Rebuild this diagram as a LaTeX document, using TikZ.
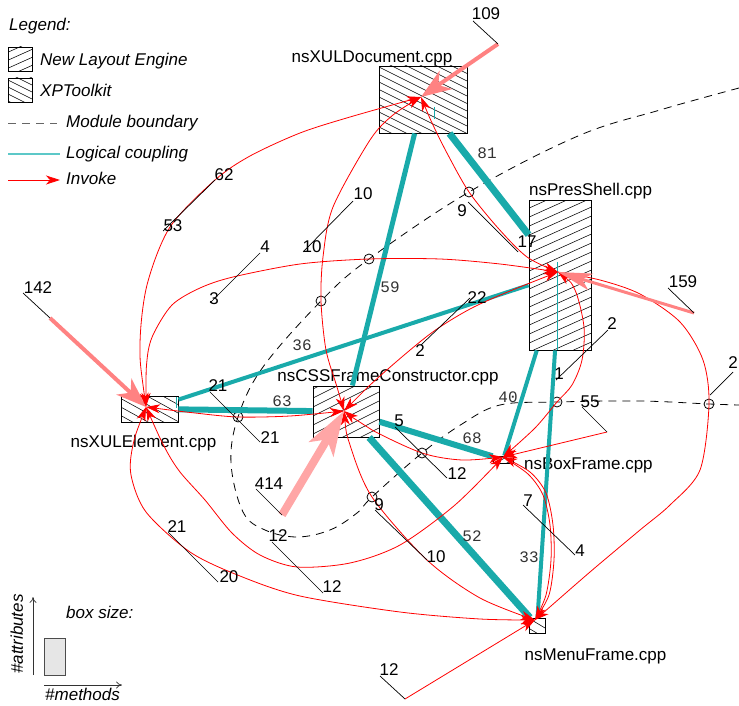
\documentclass[tikz,border=0pt]{standalone}
\usepackage{fontspec}
\setmainfont{Liberation Sans}
\newfontfamily\mfont{Liberation Mono}
\usetikzlibrary{arrows.meta}
\definecolor{cplc}{HTML}{19AAAA}
\definecolor{cpll}{HTML}{5CC8C8}
\definecolor{pinkA}{HTML}{FF8282}
\definecolor{pinkB}{HTML}{FFA6A6}
\definecolor{boxgray}{HTML}{E6E6E6}
\newcommand{\hatchit}[6]{%
  \begin{scope}
    \clip (#1,#2) rectangle (#3,#4);
    \fill[white] (#1,#2) rectangle (#3,#4);
    \pgfmathsetmacro\hw{#3-#1}%
    \pgfmathsetmacro\hdy{#5*\hw}%
    \pgfmathsetmacro\cA{#2-abs(\hdy)-#6}%
    \pgfmathsetmacro\cB{\cA+#6}%
    \pgfmathsetmacro\cZ{#4+abs(\hdy)+#6}%
    \foreach \c in {\cA,\cB,...,\cZ} {\draw[hatch] (#1,\c) -- ++(\hw,\hdy);}
  \end{scope}}
\newcommand{\leadline}[3]{\coordinate (#1a) at #2; \coordinate (#1b) at #3; \draw[lead] (#1a) -- (#1b);}
\begin{document}
\begin{tikzpicture}[x=1pt,y=-1pt,
 lbl/.style={font=\fontsize{17}{20}\selectfont, inner sep=0pt, anchor=base},
 lblw/.style={lbl, anchor=base west},
 ilbl/.style={font=\fontsize{17}{20}\selectfont\itshape, inner sep=0pt, anchor=base west},
 mnum/.style={font=\mfont\fontsize{16}{18}\selectfont, text=black!80, inner sep=0pt, anchor=base},
 cbox/.style={draw, line width=0.9pt, inner sep=0pt, rectangle},
 hatch/.style={line width=0.55pt},
 inv/.style={draw=red, line width=0.8pt, -{Stealth[length=14pt,width=9pt,inset=4pt]}},
 binv/.style={draw=red, line width=0.8pt, {Stealth[length=14pt,width=9pt,inset=4pt]}-{Stealth[length=14pt,width=9pt,inset=4pt]}},
 ext/.style={draw=pinkA, line width=4pt, -{Stealth[length=30pt,width=22pt,inset=9pt]}},
 lead/.style={draw=black, line width=0.7pt},
 ring/.style={draw=black, line width=0.8pt},
 bound/.style={draw=black, line width=0.8pt, dash pattern=on 8pt off 6pt},
]
\useasboundingbox (0,0) rectangle (739,706);

% ---------- legend ----------
\node[ilbl] (legT) at (9,31) {Legend:};
\hatchit{8}{47}{32}{71}{-0.45}{8}
\node[cbox, minimum width=24pt, minimum height=24pt] (legA) at (20,59) {};
\node[ilbl] (legAt) at (40,66) {New Layout Engine};
\hatchit{8}{78}{32}{102}{0.5}{7}
\node[cbox, minimum width=24pt, minimum height=24pt] (legB) at (20,90) {};
\node[ilbl] (legBt) at (40,96.5) {XPToolkit};
\coordinate (ld1) at (8,123); \coordinate (ld2) at (57,123);
\draw[bound, draw=black!60] (ld1) -- (ld2);
\node[ilbl] (legCt) at (66,128) {Module boundary};
\coordinate (lc1) at (8,154); \coordinate (lc2) at (60,154);
\draw[draw=cpll, line width=1.5pt] (lc1) -- (lc2);
\node[ilbl] (legDt) at (66,159) {Logical coupling};
\coordinate (li1) at (8,180); \coordinate (li2) at (60,180);
\draw[inv] (li1) -- (li2);
\node[ilbl] (legEt) at (66,185) {Invoke};

% box size legend
\node[ilbl] (bsT) at (66,618) {box size:};
\node[draw=black!70, fill=boxgray, line width=0.8pt, minimum width=21pt, minimum height=37pt, inner sep=0pt] (bsB) at (54.5,656.5) {};
\coordinate (av1) at (33,675); \coordinate (av2) at (33,597);
\draw[black!80, line width=0.7pt, -{To[length=6pt,width=7pt]}] (av1) -- (av2);
\coordinate (ah1) at (44,685); \coordinate (ah2) at (122,685);
\draw[black!80, line width=0.7pt, -{To[length=6pt,width=7pt]}] (ah1) -- (ah2);
\node[ilbl] (bsM) at (45,700) {\#methods};
\node[font=\fontsize{17}{20}\selectfont\itshape, inner sep=0pt, anchor=base, rotate=90] (bsA) at (23,634) {\#attributes};

% ---------- module boundary ----------
\draw[bound] plot[smooth, tension=0.6] coordinates {(739,88) (660,110) (578,136) (469,192) (369,259) (321,301) (263,367) (238,417) (231,463) (243,512) (265,530) (297,537) (330,530) (357,513) (372,497) (422,453) (462,424) (500,405) (557,402) (640,401) (709,404) (739,405)};
\foreach \p in {(469,192),(369,259),(321,301),(238,417),(372,497),(422,453),(557,402),(709,404)}
  \draw[ring] \p circle[radius=5pt];

% ---------- boxes ----------
\hatchit{379}{66}{467}{133}{0.5}{7.5}
\node[cbox, minimum width=88pt, minimum height=67pt] (xd) at (423,99.5) {};
\hatchit{529}{200}{591}{350}{-0.45}{9}
\node[cbox, minimum width=62pt, minimum height=150pt] (ps) at (560,275) {};
\hatchit{121}{396}{178}{422}{0.55}{8.5}
\node[cbox, minimum width=57pt, minimum height=26pt] (xe) at (149.5,409) {};
\hatchit{313}{386}{379}{437}{-0.5}{9}
\node[cbox, minimum width=66pt, minimum height=51pt] (cf) at (346,411.5) {};
\hatchit{493}{456}{513}{463}{-0.5}{6}
\node[cbox, minimum width=20pt, minimum height=7pt] (bf) at (503,459.5) {};
\hatchit{529}{618}{545}{633}{0.6}{10}
\node[cbox, minimum width=16pt, minimum height=15pt] (mf) at (537,625.5) {};

% self coupling ticks
\draw[cplc, line width=1pt] (434,107) -- (434,119);
\draw[cplc, line width=1pt] (557,262) -- (557,349.5);
\draw[cplc, line width=1pt] (176.5,397) -- (176.5,408);

% node labels
\node[lbl] (xdL) at (372,62.5) {nsXULDocument.cpp};
\node[lblw] (psL) at (529,195) {nsPresShell.cpp};
\node[lbl] (xeL) at (143.5,447) {nsXULElement.cpp};
\node[lbl] (cfL) at (388,381.5) {nsCSSFrameConstructor.cpp};
\node[lblw] (bfL) at (524,469) {nsBoxFrame.cpp};
\node[lbl] (mfL) at (595.5,660) {nsMenuFrame.cpp};

% ---------- logical coupling ----------
\draw[cplc, line width=5pt] (xd) -- (cf);
\draw[cplc, line width=7pt] (xd) -- (ps);
\draw[cplc, line width=4pt] (xe) -- (ps);
\draw[cplc, line width=6pt] (xe) -- (cf);
\draw[cplc, line width=6pt] (cf) -- (bf);
\draw[cplc, line width=7pt] (cf) -- (mf);
\draw[cplc, line width=4pt] (ps) -- (bf);
\draw[cplc, line width=4pt] (ps) -- (mf);

% ---------- invoke targets ----------
\coordinate (xdT) at (421,97);
\coordinate (psT) at (558,272);
\coordinate (xeT) at (146,407);
\coordinate (cfT) at (344,411);
\coordinate (bfT) at (503,457);
\coordinate (mfT) at (535,620);

% ---------- invoke curves ----------
\draw[binv] plot[smooth] coordinates {(xeT) (140,345) (147,285) (170,227) (215,180) (250,156) (300,133) (350,117) (xdT)};
\draw[binv] plot[smooth] coordinates {(xeT) (147,360) (153,335) (172,305) (200,288) (233,277) (300,264) (369,259) (440,259) (500,264) (psT)};
\draw[binv] plot[smooth] coordinates {(cfT) (337,387) (326,350) (321,301) (323,257) (333,207) (370,140) (393,115) (xdT)};
\draw[binv] plot[smooth] coordinates {(xdT) (433,125) (448,155) (469,192) (498,228) (527,257) (psT)};
\draw[binv] plot[smooth] coordinates {(xeT) (195,413) (238,417) (290,416) (cfT)};
\draw[binv] plot[smooth] coordinates {(cfT) (380,376) (430,334) (470,309) (510,291) (psT)};
\draw[binv] plot[smooth] coordinates {(cfT) (372,430) (422,453) (462,460) (bfT)};
\draw[binv] plot[smooth] coordinates {(cfT) (350,445) (372,497) (427,560) (480,598) (mfT)};
\draw[binv] plot[smooth] coordinates {(xeT) (165,448) (180,472) (205,500) (232,533) (260,555) (297,567) (350,563) (400,545) (455,505) (bfT)};
\draw[binv] plot[smooth] coordinates {(xeT) (133,445) (131,475) (146,512) (190,552) (240,576) (300,596) (400,612) (480,619) (mfT)};
\draw[binv] plot[smooth] coordinates {(psT) (575,290) (584,327) (582,360) (572,385) (557,402) (535,428) (bfT)};
\draw[inv] plot[smooth] coordinates {(psT) (600,280) (640,294) (680,322) (703,360) (709,404) (700,470) (670,505) (640,530) (590,572) (mfT)};
\draw[inv] plot[smooth] coordinates {(bfT) (528,474) (543,495) (550,525) (551,560) (546,595) (mfT)};
\draw[inv] plot[smooth] coordinates {(mfT) (549,595) (554,560) (553,525) (546,493) (530,472) (bfT)};

% external invocations
\coordinate (e55) at (607,432);
\draw[inv] (e55) -- (bfT);
\coordinate (e12) at (405,699);
\draw[inv] (e12) -- (mfT);
\coordinate (e109) at (498,44);
\draw[ext] (e109) -- (xdT);
\coordinate (e142) at (50,318);
\draw[ext] (e142) -- (xeT);
\coordinate (e159) at (694,313);
\draw[ext, line width=3pt, -{Stealth[length=34pt,width=17pt,inset=9pt]}] (e159) -- (psT);
\coordinate (e414) at (282,515);
\draw[ext, draw=pinkB, line width=8pt, -{Stealth[length=44pt,width=28pt,inset=11pt]}] (e414) -- (cfT);

% ---------- leaders ----------
\leadline{l109}{(473,21)}{(498,44)}
\leadline{l62}{(163,231)}{(215,180)}
\leadline{l4}{(210,303)}{(260,253)}
\leadline{l10}{(303,252)}{(353,201)}
\leadline{l142}{(23,293)}{(50,318)}
\leadline{l9}{(468,202)}{(518,252)}
\leadline{l22}{(421,345)}{(470,298)}
\leadline{l159}{(668,288)}{(694,313)}
\leadline{l2a}{(556,380)}{(608,330)}
\leadline{l21}{(210,392)}{(260,442)}
\leadline{l5}{(395,427)}{(447,478)}
\leadline{l55}{(582,407)}{(607,432)}
\leadline{l2b}{(710,395)}{(733,372)}
\leadline{l414}{(256,489)}{(282,515)}
\leadline{l9b}{(375,510)}{(427,560)}
\leadline{l12}{(272,542)}{(323,593)}
\leadline{l7}{(523,505)}{(575,555)}
\leadline{l21b}{(168,532)}{(218,582)}
\leadline{l12b}{(380,676)}{(405,699)}

% ---------- numbers ----------
\node[lbl] (n109) at (486,20) {109};
\node[lbl] (n62) at (224,180) {62};
\node[lbl] (n53) at (173,231.5) {53};
\node[lbl] (n4) at (265,252.5) {4};
\node[lbl] (n3) at (214,304) {3};
\node[lbl] (n10a) at (363,200) {10};
\node[lbl] (n10b) at (312,252.5) {10};
\node[lbl] (n142) at (38,293) {142};
\node[lbl] (n9) at (462,216) {9};
\node[lbl] (n17) at (527,247.5) {17};
\node[lbl] (n22) at (477,303.5) {22};
\node[lbl] (n2a) at (420,356) {2};
\node[lbl] (n159) at (683,287.5) {159};
\node[lbl] (n2b) at (612,329) {2};
\node[lbl] (n21a) at (218,391) {21};
\node[lbl] (n21b) at (270,443) {21};
\node[lbl] (n5) at (399,426.5) {5};
\node[lbl] (n1) at (559,379) {1};
\node[lbl] (n55) at (590,407.5) {55};
\node[lbl, anchor=base east] (n2c) at (738,368) {2};
\node[lbl] (n12a) at (457,479) {12};
\node[lbl] (n414) at (269,489) {414};
\node[lbl] (n9b) at (379,510) {9};
\node[lbl] (n10c) at (436,562) {10};
\node[lbl] (n12b) at (278,541) {12};
\node[lbl] (n12c) at (332,592.5) {12};
\node[lbl] (n7) at (528,506) {7};
\node[lbl] (n4b) at (580,556.5) {4};
\node[lbl] (n21c) at (177,532) {21};
\node[lbl] (n20) at (229,582.5) {20};
\node[lbl] (n12d) at (389,675) {12};

\node[mnum] (m81) at (487,159) {81};
\node[mnum] (m59) at (390,292.5) {59};
\node[mnum] (m36) at (302,350) {36};
\node[mnum] (m63) at (282,406.5) {63};
\node[mnum] (m68) at (472,443) {68};
\node[mnum] (m40) at (508,402) {40};
\node[mnum] (m52) at (472,541.5) {52};
\node[mnum] (m33) at (529,562) {33};
\end{tikzpicture}
\end{document}
